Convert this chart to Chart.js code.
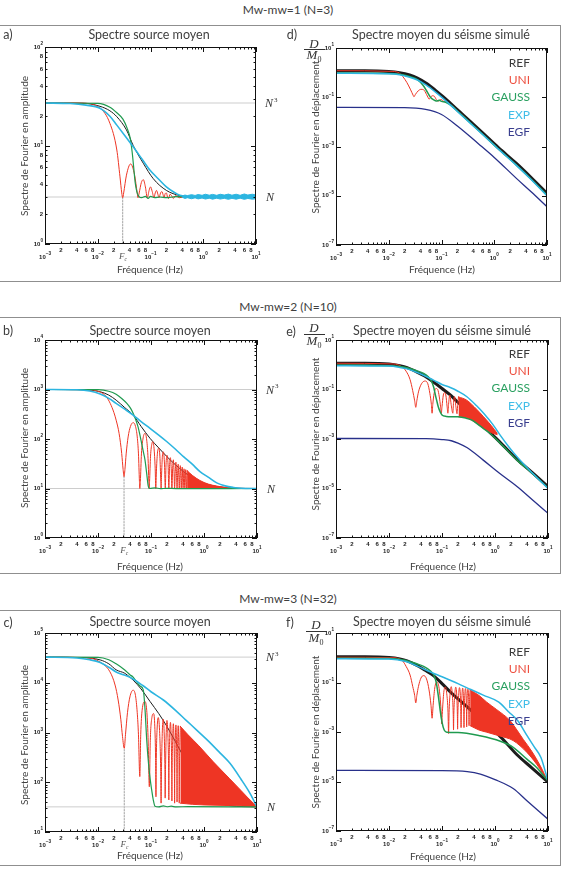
<!DOCTYPE html>
<html>
<head>
<meta charset="utf-8">
<script src="https://cdn.jsdelivr.net/npm/chart.js@4.4.1/dist/chart.umd.min.js"></script>
<style>
body{margin:0;width:573px;height:874px;background:#fff;position:relative;overflow:hidden;font-family:Lato,"Open Sans",sans-serif;color:#404040}
.box{position:absolute;left:-2px;width:563px;border:1.5px solid #8f8f8f;box-sizing:border-box}
.t{position:absolute;white-space:nowrap;transform:translate(-50%,-50%);line-height:1}
.v{transform:translate(-50%,-50%) rotate(-90deg)}
.hd{font-size:12px}
.ti{font-size:12.5px}
.ax{font-size:10px}
.lg{position:absolute;white-space:nowrap;transform:translate(-100%,-50%);font-size:12px;line-height:1}
.dm{position:absolute;font-family:"Liberation Serif",serif;font-style:italic;font-size:13px;color:#333;transform:translate(-50%,-50%);line-height:1;white-space:nowrap}
.dm sub{font-size:8px;font-style:normal}
.bar{position:absolute;height:1px;background:#333}
canvas{position:absolute}
</style>
</head>
<body>
<div class="box" style="top:25px;height:257px"></div>
<div class="box" style="top:317px;height:257px"></div>
<div class="box" style="top:610px;height:256px"></div>

<canvas id="cA"></canvas><canvas id="cD"></canvas>
<canvas id="cB"></canvas><canvas id="cE"></canvas>
<canvas id="cC"></canvas><canvas id="cF"></canvas>

<div class="t hd" style="left:288px;top:10px">Mw-mw=1 (N=3)</div>
<div class="t hd" style="left:288px;top:307px">Mw-mw=2 (N=10)</div>
<div class="t hd" style="left:288px;top:599px">Mw-mw=3 (N=32)</div>

<div class="t ti" style="left:8px;top:35px">a)</div>
<div class="t ti" style="left:292px;top:35px">d)</div>
<div class="t ti" style="left:8px;top:331px">b)</div>
<div class="t ti" style="left:291px;top:332px">e)</div>
<div class="t ti" style="left:8px;top:623px">c)</div>
<div class="t ti" style="left:290px;top:623px">f)</div>

<div class="t ti" style="left:149px;top:35px">Spectre source moyen</div>
<div class="t ti" style="left:150px;top:331px">Spectre source moyen</div>
<div class="t ti" style="left:150px;top:622px">Spectre source moyen</div>
<div class="t ti" style="left:441px;top:35px">Spectre moyen du séisme simulé</div>
<div class="t ti" style="left:442px;top:331px">Spectre moyen du séisme simulé</div>
<div class="t ti" style="left:442px;top:622px">Spectre moyen du séisme simulé</div>

<div class="t v ax" style="left:24px;top:146px">Spectre de Fourier en amplitude</div>
<div class="t v ax" style="left:24px;top:438px">Spectre de Fourier en amplitude</div>
<div class="t v ax" style="left:24px;top:735px">Spectre de Fourier en amplitude</div>
<div class="t v ax" style="left:315px;top:137px">Spectre de Fourier en déplacement</div>
<div class="t v ax" style="left:315px;top:434px">Spectre de Fourier en déplacement</div>
<div class="t v ax" style="left:315px;top:732px">Spectre de Fourier en déplacement</div>

<div class="t ax" style="left:150px;top:269px">Fréquence (Hz)</div>
<div class="t ax" style="left:442px;top:269px">Fréquence (Hz)</div>
<div class="t ax" style="left:150px;top:566px">Fréquence (Hz)</div>
<div class="t ax" style="left:443px;top:566px">Fréquence (Hz)</div>
<div class="t ax" style="left:150px;top:855px">Fréquence (Hz)</div>
<div class="t ax" style="left:443px;top:856px">Fréquence (Hz)</div>

<div class="dm" style="left:314px;top:43px">D</div>
<div class="bar" style="left:304px;top:49px;width:21px"></div>
<div class="dm" style="left:314px;top:56px">M<sub>0</sub></div>
<div class="dm" style="left:314px;top:327px">D</div>
<div class="bar" style="left:304px;top:334px;width:21px"></div>
<div class="dm" style="left:314px;top:342px">M<sub>0</sub></div>
<div class="dm" style="left:316px;top:624px">D</div>
<div class="bar" style="left:306px;top:631px;width:21px"></div>
<div class="dm" style="left:316px;top:639px">M<sub>0</sub></div>

<div id="legends"></div>

<script>
// ---- tick values ----
const xDecades = [1e-3, 1e-2, 1e-1, 1, 10];
const xMinorLabels = [2, 4, 6, 8];
const yDecadesA = [1, 10, 100];
const yMinorLabelsA = [2, 4, 6, 8];
const yDecadesB = [1, 10, 100, 1000, 10000];
const yDecadesC = [10, 100, 1000, 1e4, 1e5];
const yDecadesRight = [1e-7, 1e-5, 1e-3, 1e-1, 10];
const legendNames = ['REF', 'UNI', 'GAUSS', 'EXP', 'EGF'];

// ---- panel a (N=3) ----
const nA = 3, n3A = 27, fcA = 0.0297;
const refA = [[0.001,27],[0.005,26.9],[0.011,25],[0.017,22.5],[0.023,19.6],[0.035,14.4],[0.047,10],[0.073,6.6],[0.113,4.6],[0.2,3.5],[0.36,3.1],[0.7,3],[10,3]];
const uniA = [[0.001,27],[0.005,26.9],[0.011,24],[0.017,16.8],[0.023,9],[0.0264,4.8],[0.0285,3.3],[0.0297,2.95],[0.031,3.3],[0.035,5],[0.042,6.5],[0.05,5],[0.056,3.3],[0.058,2.95],[0.061,3.3],[0.067,4.2],[0.073,4.5],[0.08,3.8],[0.087,2.95],[0.094,3.5],[0.1,3.8],[0.108,3.4],[0.116,2.95],[0.123,3.3],[0.13,3.5],[0.138,3.2],[0.145,2.95],[0.155,3.3],[0.165,3.4],[0.175,3.1],[0.18,2.95],[0.19,3.25],[0.2,3.3],[0.21,3.0],[0.22,2.9],[0.235,3.2],[0.25,3.1],[0.27,2.9],[0.3,3.1],[0.35,2.95],[0.5,3.05],[1,2.95],[10,3]];
const gaussA = [[0.001,27],[0.01,26.8],[0.017,24.5],[0.023,21.5],[0.03,18.5],[0.036,15],[0.041,12],[0.045,8.5],[0.048,6],[0.051,4.3],[0.055,3.4],[0.06,3.05],[0.068,2.95],[0.08,3.05],[0.09,2.9],[0.1,3.05],[0.12,2.95],[0.15,3.0],[0.2,2.95],[0.3,3.02],[10,3]];
const expA = [[0.001,27],[0.003,26.7],[0.006,25.7],[0.011,23.9],[0.017,19.8],[0.023,16.1],[0.033,12.5],[0.047,9.7],[0.07,7.2],[0.098,5.6],[0.14,4.6],[0.2,3.8],[0.28,3.35],[0.36,3.12],[0.45,3.05]];
const expNoiseHiA = [[0.4,3.08],[0.45,3.14],[0.5,3.1],[0.6,3.17],[0.7,3.11],[0.8,3.18],[0.95,3.12],[1.1,3.2],[1.3,3.13],[1.5,3.19],[1.8,3.12],[2.1,3.2],[2.5,3.14],[3,3.21],[3.5,3.13],[4.2,3.2],[5,3.12],[6,3.22],[7,3.14],[8.5,3.2],[10,3.15]];
const expNoiseLoA = [[0.4,2.98],[0.45,2.9],[0.5,2.95],[0.6,2.88],[0.7,2.94],[0.8,2.87],[0.95,2.93],[1.1,2.86],[1.3,2.92],[1.5,2.85],[1.8,2.92],[2.1,2.86],[2.5,2.91],[3,2.84],[3.5,2.91],[4.2,2.85],[5,2.92],[6,2.84],[7,2.9],[8.5,2.85],[10,2.88]];

// ---- panel b (N=10) ----
const nB = 10, n3B = 1000, fcB = 0.031;
const refB = [[0.001,1000],[0.005,990],[0.011,900],[0.016,770],[0.022,610],[0.032,430],[0.046,305],[0.065,180],[0.096,103],[0.14,66],[0.2,44],[0.29,30],[0.41,22],[0.6,16.5],[0.84,13.8],[1.2,12],[1.74,11],[3.6,10.2],[10,10]];
const expB = [[0.001,1000],[0.004,985],[0.007,930],[0.011,810],[0.016,660],[0.022,525],[0.032,400],[0.046,305],[0.065,225],[0.096,164],[0.14,120],[0.2,88],[0.29,62],[0.41,44],[0.6,31],[0.84,22],[1.2,17],[1.74,13],[2.5,11.3],[3.6,10.5],[5,10.1],[10,10]];
const gaussB = [[0.001,1000],[0.01,990],[0.016,920],[0.022,800],[0.028,660],[0.035,525],[0.041,420],[0.046,330],[0.052,240],[0.057,175],[0.061,128],[0.066,85],[0.071,58],[0.077,38],[0.083,20],[0.089,11],[0.095,10],[0.12,10.3],[0.15,9.9],[0.2,10.1],[0.3,9.95],[10,10]];
const uniB = [[0.001,1000],[0.006,990],[0.011,890],[0.014,740],[0.017,525],[0.02,340],[0.022,240],[0.025,130],[0.028,51],[0.0298,24],[0.031,17.4],[0.0322,24],[0.034,50],[0.037,110],[0.041,180],[0.046,214],[0.051,180],[0.055,110],[0.058,50],[0.0605,14],[0.0615,10],[0.063,14],[0.066,50],[0.071,105],[0.077,130],[0.083,95],[0.088,40],[0.091,14],[0.092,10],[0.094,14],[0.098,45],[0.104,80],[0.108,88],[0.114,65],[0.12,25],[0.123,10],[0.127,25],[0.133,55],[0.14,65],[0.147,45],[0.153,14],[0.155,10],[0.158,18],[0.164,45],[0.171,55],[0.18,30],[0.186,10],[0.192,30],[0.2,47],[0.21,30],[0.217,10],[0.224,28],[0.232,42],[0.241,25],[0.248,10],[0.256,25],[0.264,38],[0.272,22],[0.279,10],[0.287,22],[0.295,34],[0.303,20],[0.31,10],[0.318,20],[0.326,31],[0.334,18],[0.341,10],[0.349,18],[0.357,29],[0.365,17],[0.372,10],[0.38,17],[0.388,27],[0.403,10],[0.42,25],[0.434,10],[0.45,24],[0.465,10],[0.48,23]];
const uniBandHiB = [[0.48,23],[0.6,18.5],[0.84,14.5],[1.2,12.3],[1.74,11.2],[2.5,10.5],[3.5,10.2]];
const uniBandLoB = [[0.48,10],[1,10],[3.5,10]];

// ---- panel c (N=32) ----
const nC = 32, n3C = 32768, fcC = 0.0313;
const refC = [[0.001,32700],[0.005,32000],[0.011,28800],[0.016,24000],[0.022,18200],[0.032,15500],[0.04,12900],[0.046,11300],[0.065,7500],[0.096,4200],[0.14,2400],[0.2,1320],[0.29,650],[0.41,330],[0.63,140],[0.84,90],[1.2,56],[1.74,42],[3,34],[10,32]];
const expC = [[0.001,32700],[0.004,31500],[0.007,29000],[0.011,25500],[0.016,20500],[0.022,16500],[0.03,14500],[0.0402,12900],[0.07,8800],[0.1,6600],[0.171,4500],[0.3,2700],[0.45,1800],[0.728,1120],[1.2,680],[2,390],[3.09,240],[5,115],[7.38,60],[8.5,45],[10,32]];
const gaussC = [[0.001,32700],[0.01,32400],[0.016,29000],[0.022,24000],[0.032,18000],[0.04,14500],[0.046,13000],[0.055,10000],[0.063,8500],[0.0716,7100],[0.077,3000],[0.083,710],[0.09,230],[0.097,110],[0.103,70],[0.11,45],[0.119,33],[0.14,32],[0.17,33.5],[0.2,32.2],[0.24,33],[0.3,32],[0.5,32.3],[10,32]];
const uniC = [[0.001,32700],[0.006,32000],[0.011,26000],[0.0168,16600],[0.021,9000],[0.024,4500],[0.027,1800],[0.029,830],[0.0313,480],[0.033,900],[0.036,2500],[0.04,5200],[0.046,7100],[0.051,5500],[0.055,2500],[0.058,900],[0.0615,130],[0.064,900],[0.068,2800],[0.077,4200],[0.083,2800],[0.088,800],[0.093,81],[0.097,700],[0.104,2000],[0.112,2400],[0.118,1300],[0.122,300],[0.124,51],[0.126,300],[0.13,1100],[0.137,2000],[0.145,1100],[0.152,200],[0.155,38],[0.158,200],[0.163,950],[0.17,1850],[0.178,850],[0.183,180],[0.185,48],[0.188,180],[0.193,850],[0.2,1750],[0.209,800],[0.215,170],[0.217,44],[0.219,170],[0.225,800],[0.233,1600],[0.241,700],[0.246,160],[0.248,42],[0.25,160],[0.256,700],[0.264,1500],[0.272,650],[0.277,150],[0.279,38],[0.281,150],[0.287,650],[0.295,1420],[0.303,600],[0.308,150],[0.31,40],[0.312,150],[0.318,600],[0.326,1370],[0.334,550],[0.339,140],[0.341,38],[0.343,140],[0.35,550],[0.358,1330]];
const uniBandHiC = [[0.358,1330],[0.5,900],[0.8,540],[1.5,257],[3,120],[5,68],[8.5,38],[10,33]];
const uniBandLoC = [[0.358,38],[0.6,36],[1,35],[3,34],[10,32]];

// ---- panel d (N=3) ----
const refD = [[0.001,1.2],[0.0035,1.2],[0.01,1.12],[0.016,1.0],[0.0249,0.8],[0.035,0.6],[0.0515,0.37],[0.075,0.2],[0.107,0.105],[0.15,0.055],[0.22,0.026],[0.35,0.0105],[0.61,3.5e-3],[1.2,9e-4],[2.6,2.1e-4],[5,5.5e-5],[10,1.25e-5]];
const expD = [[0.001,0.95],[0.01,0.9],[0.016,0.82],[0.0249,0.65],[0.035,0.5],[0.0515,0.31],[0.075,0.17],[0.107,0.09],[0.15,0.047],[0.22,0.022],[0.35,0.0089],[0.61,3e-3],[1.2,7.8e-4],[2.6,1.75e-4],[5,4.6e-5],[10,1.0e-5]];
const gaussD = [[0.001,0.97],[0.01,0.93],[0.016,0.86],[0.0249,0.7],[0.035,0.52],[0.045,0.3],[0.055,0.15],[0.063,0.095],[0.07,0.08],[0.08,0.07],[0.09,0.075],[0.1,0.068],[0.12,0.063],[0.15,0.048],[0.22,0.023],[0.35,0.0092],[0.61,3.05e-3],[1.2,7.9e-4],[2.6,1.8e-4],[5,4.7e-5],[10,1.05e-5]];
const uniD = [[0.001,1.2],[0.012,1.12],[0.016,0.95],[0.0186,0.68],[0.022,0.4],[0.026,0.2],[0.029,0.12],[0.03,0.105],[0.032,0.13],[0.036,0.18],[0.041,0.21],[0.046,0.2],[0.052,0.13],[0.056,0.095],[0.058,0.083],[0.061,0.095],[0.067,0.115],[0.073,0.11],[0.08,0.08],[0.087,0.07],[0.093,0.078],[0.1,0.08],[0.11,0.068],[0.12,0.066],[0.13,0.063],[0.15,0.05],[0.22,0.024],[0.35,0.0095],[0.61,3.1e-3],[1.2,8e-4],[2.6,1.8e-4],[5,4.8e-5],[10,1.05e-5]];
const egfD = [[0.001,0.039],[0.02,0.038],[0.05,0.032],[0.1,0.02],[0.2,6.8e-3],[0.5,1.3e-3],[1,3.6e-4],[2.6,5.2e-5],[5,1.45e-5],[10,3.6e-6]];

// ---- panel e (N=10) ----
const refE = [[0.001,1.15],[0.0035,1.15],[0.01,1.07],[0.016,0.92],[0.022,0.77],[0.033,0.52],[0.047,0.35],[0.069,0.2],[0.1,0.11],[0.143,0.06],[0.2,0.03],[0.295,0.015],[0.61,3.2e-3],[1.2,8e-4],[2.6,1.5e-4],[5,4.5e-5],[10,1.2e-5]];
const expE = [[0.001,0.92],[0.01,0.88],[0.016,0.78],[0.022,0.68],[0.033,0.5],[0.047,0.36],[0.069,0.24],[0.1,0.16],[0.143,0.12],[0.2,0.085],[0.295,0.051],[0.45,0.022],[0.61,0.011],[0.9,4e-3],[1.26,1.4e-3],[1.8,5e-4],[2.6,1.9e-4],[5,4.3e-5],[10,1e-5]];
const gaussE = [[0.001,0.95],[0.01,0.92],[0.016,0.85],[0.022,0.75],[0.033,0.58],[0.045,0.45],[0.055,0.33],[0.063,0.22],[0.07,0.12],[0.075,0.06],[0.079,0.038],[0.085,0.02],[0.093,0.012],[0.1,9.3e-3],[0.12,8.2e-3],[0.16,8e-3],[0.2,7.9e-3],[0.28,7e-3],[0.36,5.9e-3],[0.45,4.3e-3],[0.61,2.6e-3],[0.8,1.7e-3],[1.2,7.5e-4],[2.6,1.4e-4],[5,4.2e-5],[10,1.05e-5]];
const uniE = [[0.001,1.15],[0.012,1.08],[0.0147,1.0],[0.018,0.8],[0.021,0.55],[0.025,0.25],[0.028,0.09],[0.0305,0.035],[0.032,0.019],[0.0335,0.035],[0.036,0.08],[0.041,0.17],[0.048,0.22],[0.054,0.17],[0.059,0.07],[0.063,0.025],[0.065,0.011],[0.067,0.025],[0.071,0.07],[0.077,0.11],[0.083,0.1],[0.089,0.05],[0.094,0.02],[0.097,0.011],[0.1,0.02],[0.106,0.06],[0.112,0.075],[0.118,0.06],[0.125,0.02],[0.129,0.011],[0.133,0.025],[0.14,0.06],[0.15,0.022],[0.16,0.011],[0.165,0.03],[0.172,0.052],[0.183,0.02],[0.192,0.0105],[0.198,0.025],[0.205,0.05]];
const uniBandHiE = [[0.205,0.05],[0.288,0.038],[0.45,0.016],[0.61,7.9e-3],[0.85,3.5e-3],[1.1,1.7e-3]];
const uniBandLoE = [[0.205,7.9e-3],[0.288,7.2e-3],[0.45,4.3e-3],[0.61,2.6e-3],[0.85,1.8e-3],[1.1,1.5e-3]];
const egfE = [[0.001,1.05e-3],[0.05,1.03e-3],[0.1,9.5e-4],[0.15,8.5e-4],[0.2,6.8e-4],[0.3,4.4e-4],[0.6,1.4e-4],[1.2,4.2e-5],[2.6,1.2e-5],[5,3.6e-6],[10,1e-6]];

// ---- panel f (N=32) ----
const refF = [[0.001,1.1],[0.0035,1.1],[0.01,1.03],[0.016,0.9],[0.022,0.75],[0.033,0.5],[0.047,0.32],[0.069,0.19],[0.1,0.09],[0.143,0.042],[0.2,0.022],[0.295,0.0105],[0.61,2.6e-3],[1.26,6.5e-4],[2.6,1.2e-4],[5,3.5e-5],[10,9.5e-6]];
const expF = [[0.001,0.92],[0.01,0.88],[0.02,0.72],[0.035,0.45],[0.0605,0.267],[0.1,0.17],[0.2,0.09],[0.35,0.052],[0.6,0.031],[1.18,0.0162],[1.8,6.6e-3],[2.67,2.9e-3],[4,7.3e-4],[5.5,2.5e-4],[7.36,9.3e-5],[10,1.05e-5]];
const gaussF = [[0.001,0.95],[0.01,0.93],[0.02,0.8],[0.035,0.55],[0.045,0.45],[0.06,0.3],[0.07,0.2],[0.078,0.1],[0.085,0.03],[0.092,8e-3],[0.1,2.5e-3],[0.11,1.2e-3],[0.123,9.8e-4],[0.2,9.5e-4],[0.52,7e-4],[1.26,4.2e-4],[2.2,2.4e-4],[4,8e-5],[6.1,3.7e-5],[10,1.05e-5]];
const uniF = [[0.001,1.05],[0.013,1.0],[0.0147,0.95],[0.018,0.75],[0.021,0.45],[0.025,0.2],[0.028,0.07],[0.0305,0.03],[0.032,0.015],[0.0335,0.03],[0.036,0.07],[0.04,0.15],[0.045,0.19],[0.051,0.14],[0.057,0.05],[0.062,0.012],[0.065,3.6e-3],[0.068,0.012],[0.073,0.06],[0.08,0.105],[0.087,0.07],[0.093,0.02],[0.097,5e-3],[0.099,2.1e-3],[0.101,5e-3],[0.108,0.04],[0.115,0.066],[0.123,0.035],[0.13,6e-3],[0.133,8.7e-4],[0.136,6e-3],[0.142,0.035],[0.149,0.068],[0.157,0.03],[0.163,5e-3],[0.165,1.2e-3],[0.167,5e-3],[0.174,0.03],[0.181,0.065],[0.19,0.03],[0.195,5e-3],[0.197,1.3e-3],[0.199,5e-3],[0.206,0.03],[0.213,0.062],[0.222,0.03],[0.227,5e-3],[0.229,1.5e-3],[0.231,5e-3],[0.238,0.03],[0.245,0.06],[0.253,0.03],[0.258,5e-3],[0.26,1.5e-3],[0.262,5e-3],[0.269,0.03],[0.276,0.057],[0.285,0.03],[0.29,5e-3],[0.292,1.6e-3],[0.294,5e-3],[0.3,0.03],[0.308,0.054],[0.317,0.028],[0.322,5e-3],[0.324,1.8e-3],[0.326,5e-3],[0.333,0.028],[0.34,0.05]];
const uniBandHiF = [[0.34,0.05],[0.5,0.03],[0.7,0.016],[1.08,8e-3],[1.92,2.9e-3],[2.67,1.1e-3],[3.42,5e-4],[5,1.6e-4],[7.07,4.5e-5],[10,1e-5]];
const uniBandLoF = [[0.34,1.8e-3],[0.5,1.2e-3],[0.7,9.8e-4],[1.2,7e-4],[2.2,4.5e-4],[4,1.5e-4],[6.1,5e-5],[10,1e-5]];
const egfF = [[0.001,2.8e-5],[0.1,2.75e-5],[0.3,2.5e-5],[0.53,2e-5],[1.0,1.2e-5],[2.2,5.2e-6],[4.1,1.6e-6],[10,3e-7]];

// ---- colours ----
const cRef = '#1c1c1c', cUni = '#ee3524', cGauss = '#1f9a4f', cExp = '#2cb5e0', cEgf = '#28308a', cGrid = '#cdcdcd';
const legendColors = ['#3a3a3a', '#ee5040', '#2aa060', '#40bde8', '#3a3f8f'];

function line(data, color, width, extra) {
  return Object.assign({
    data: data.map(([x, y]) => ({x, y})),
    borderColor: color, backgroundColor: color, borderWidth: width,
    cubicInterpolationMode: 'monotone', fill: false
  }, extra || {});
}
function straight(data, color, width, extra) {
  return line(data, color, width, Object.assign({cubicInterpolationMode: 'default', tension: 0}, extra || {}));
}
function hLine(v) { return straight([[1e-3, v], [10, v]], cGrid, 1); }
function fcLine(fc, lo, hi) { return straight([[fc, lo], [fc, hi]], '#8a8a8a', 0.8, {borderDash: [1.5, 1.5]}); }

function pow10(ctx, e, x, y, align) {
  const ex = e < 0 ? '\u2212' + (-e) : String(e);
  ctx.font = 'bold 6px "Liberation Sans"';
  const w1 = ctx.measureText('10').width;
  ctx.font = 'bold 4.6px "Liberation Sans"';
  const w2 = ctx.measureText(ex).width;
  const x0 = align === 'right' ? x - w1 - w2 : x - (w1 + w2) / 2;
  ctx.textAlign = 'left';
  ctx.textBaseline = 'middle';
  ctx.font = 'bold 6px "Liberation Sans"';
  ctx.fillText('10', x0, y);
  ctx.font = 'bold 4.6px "Liberation Sans"';
  ctx.fillText(ex, x0 + w1, y - 2.8);
}

const idlFrame = {
  id: 'idlFrame',
  afterDatasetsDraw(chart, args, o) {
    const {ctx, chartArea: a, scales: {x, y}} = chart;
    ctx.save();
    ctx.strokeStyle = '#111';
    ctx.lineWidth = 1;
    ctx.beginPath();
    xDecades.forEach(d => {
      for (let m = 1; m < 10; m++) {
        const v = d * m;
        if (v > 10.0001) break;
        const p = Math.round(x.getPixelForValue(v)) + 0.5;
        const len = m === 1 ? 5 : 2.5;
        ctx.moveTo(p, a.bottom); ctx.lineTo(p, a.bottom - len);
        ctx.moveTo(p, a.top); ctx.lineTo(p, a.top + len);
      }
    });
    o.yDecades.forEach(d => {
      const p = Math.round(y.getPixelForValue(d)) + 0.5;
      ctx.moveTo(a.left, p); ctx.lineTo(a.left + 5, p);
      ctx.moveTo(a.right, p); ctx.lineTo(a.right - 5, p);
      if (o.yMinor) {
        for (let m = 2; m < 10; m++) {
          const v = d * m;
          if (v > y.max * 1.0001) break;
          const q = Math.round(y.getPixelForValue(v)) + 0.5;
          ctx.moveTo(a.left, q); ctx.lineTo(a.left + 2.5, q);
          ctx.moveTo(a.right, q); ctx.lineTo(a.right - 2.5, q);
        }
      }
    });
    ctx.stroke();
    ctx.strokeRect(Math.round(a.left) + 0.5, Math.round(a.top) + 0.5, Math.round(a.right - a.left) - 1, Math.round(a.bottom - a.top) - 1);

    // x labels
    ctx.fillStyle = '#222';
    xDecades.forEach(d => {
      pow10(ctx, Math.round(Math.log10(d)), x.getPixelForValue(d), a.bottom + 13, 'center');
      if (d < 10) {
        ctx.font = 'bold 6px "Liberation Sans"';
        ctx.textAlign = 'center';
        xMinorLabels.forEach(m => ctx.fillText(String(m), x.getPixelForValue(d * m), a.bottom + 6));
      }
    });
    // y labels
    o.yDecades.forEach(d => {
      pow10(ctx, Math.round(Math.log10(d)), a.left - 2, y.getPixelForValue(d), 'right');
      if (o.yMinorLabels) {
        ctx.font = 'bold 6px "Liberation Sans"';
        ctx.textAlign = 'right';
        o.yMinorLabels.forEach(m => {
          if (d * m <= y.max) ctx.fillText(String(m), a.left - 2, y.getPixelForValue(d * m));
        });
      }
    });
    // F_c label
    if (o.fc) {
      const p = x.getPixelForValue(o.fc);
      ctx.fillStyle = '#555';
      ctx.textAlign = 'center';
      ctx.font = 'italic 9px "Liberation Serif"';
      ctx.fillText('F', p - 1, a.bottom + 13);
      ctx.font = 'italic 5.5px "Liberation Serif"';
      ctx.fillText('c', p + 3, a.bottom + 15.5);
    }
    // N and N^3 labels
    if (o.nLevels) {
      ctx.fillStyle = '#333';
      ctx.textAlign = 'left';
      const [n3, n] = o.nLevels;
      ctx.font = 'italic 12px "Liberation Serif"';
      ctx.fillText('N', a.right + 9, y.getPixelForValue(n3) + 1);
      ctx.fillText('N', a.right + 10, y.getPixelForValue(n) + 1);
      ctx.font = '7px "Liberation Serif"';
      ctx.fillText('3', a.right + 18, y.getPixelForValue(n3) - 3);
    }
    ctx.restore();
  }
};

function makePanel(id, canvasRect, plotRect, yRange, datasets, frameOpts) {
  const [cx, cy, cw, ch] = canvasRect;
  const [pl, pt, pr, pb] = plotRect;
  const cv = document.getElementById(id);
  cv.width = cw; cv.height = ch;
  cv.style.left = cx + 'px'; cv.style.top = cy + 'px';
  cv.style.width = cw + 'px'; cv.style.height = ch + 'px';
  new Chart(cv.getContext('2d'), {
    type: 'line',
    data: {datasets},
    options: {
      responsive: false,
      animation: false,
      devicePixelRatio: 1,
      layout: {padding: {left: pl - cx, top: pt - cy, right: cx + cw - pr, bottom: cy + ch - pb}},
      scales: {
        x: {type: 'logarithmic', min: 1e-3, max: 10, display: false},
        y: {type: 'logarithmic', min: yRange[0], max: yRange[1], display: false}
      },
      elements: {point: {radius: 0}, line: {borderJoinStyle: 'round', borderCapStyle: 'round'}},
      plugins: {legend: {display: false}, tooltip: {enabled: false}, idlFrame: frameOpts}
    },
    plugins: [idlFrame]
  });
}

// left panels: source spectra
makePanel('cA', [0, 26, 283, 255], [45, 47, 256, 244], [1, 100], [
  straight(expNoiseHiA, cExp, 1, {fill: '+1'}),
  straight(expNoiseLoA, cExp, 1),
  line(expA, cExp, 1.6),
  line(gaussA, cGauss, 1.2),
  line(uniA, cUni, 1),
  line(refA, cRef, 1),
  hLine(n3A), hLine(nA),
  fcLine(fcA, 1, 2.95)
], {yDecades: yDecadesA, yMinor: true, yMinorLabels: yMinorLabelsA, fc: fcA, nLevels: [n3A, nA]});

makePanel('cB', [0, 318, 283, 255], [45, 340, 257, 538], [1, 1e4], [
  line(expB, cExp, 1.6),
  line(gaussB, cGauss, 1.2),
  line(uniB, cUni, 1),
  line(uniBandHiB, cUni, 1, {fill: '+1'}),
  line(uniBandLoB, cUni, 1),
  line(refB, cRef, 1),
  hLine(n3B), hLine(nB),
  fcLine(fcB, 1, 17.4)
], {yDecades: yDecadesB, yMinor: true, fc: fcB, nLevels: [n3B, nB]});

makePanel('cC', [0, 611, 283, 254], [45, 633, 257, 832], [10, 1e5], [
  line(expC, cExp, 1.6),
  line(gaussC, cGauss, 1.2),
  line(uniC, cUni, 1),
  line(uniBandHiC, cUni, 1, {fill: '+1'}),
  line(uniBandLoC, cUni, 1),
  line(refC, cRef, 1),
  hLine(n3C), hLine(nC),
  fcLine(fcC, 10, 480)
], {yDecades: yDecadesC, yMinor: true, fc: fcC, nLevels: [n3C, nC]});

// right panels: displacement spectra
makePanel('cD', [283, 26, 290, 255], [336, 48, 547, 245], [1e-7, 10], [
  line(expD, cExp, 1.5),
  line(gaussD, cGauss, 1.5),
  line(uniD, cUni, 1),
  line(refD, cRef, 3),
  line(egfD, cEgf, 1.3)
], {yDecades: yDecadesRight, yMinor: false});

makePanel('cE', [283, 318, 290, 255], [336, 340, 548, 538], [1e-7, 10], [
  line(expE, cExp, 1.5),
  line(gaussE, cGauss, 1.5),
  line(uniE, cUni, 1),
  line(uniBandHiE, cUni, 1, {fill: '+1'}),
  line(uniBandLoE, cUni, 1),
  line(refE, cRef, 3),
  line(egfE, cEgf, 1.3)
], {yDecades: yDecadesRight, yMinor: false});

makePanel('cF', [283, 611, 290, 254], [336, 633, 548, 831], [1e-7, 10], [
  line(expF, cExp, 1.5),
  line(gaussF, cGauss, 1.5),
  line(uniF, cUni, 1),
  line(uniBandHiF, cUni, 1, {fill: '+1'}),
  line(uniBandLoF, cUni, 1),
  line(refF, cRef, 3),
  line(egfF, cEgf, 1.3)
], {yDecades: yDecadesRight, yMinor: false});

// legends of right panels
const legendTops = [63, 354, 652];
const lg = document.getElementById('legends');
legendTops.forEach(top => {
  legendNames.forEach((name, i) => {
    const d = document.createElement('div');
    d.className = 'lg';
    d.style.left = '530px';
    d.style.top = (top + i * 17.2) + 'px';
    d.style.color = legendColors[i];
    d.textContent = name;
    lg.appendChild(d);
  });
});
</script>
</body>
</html>
